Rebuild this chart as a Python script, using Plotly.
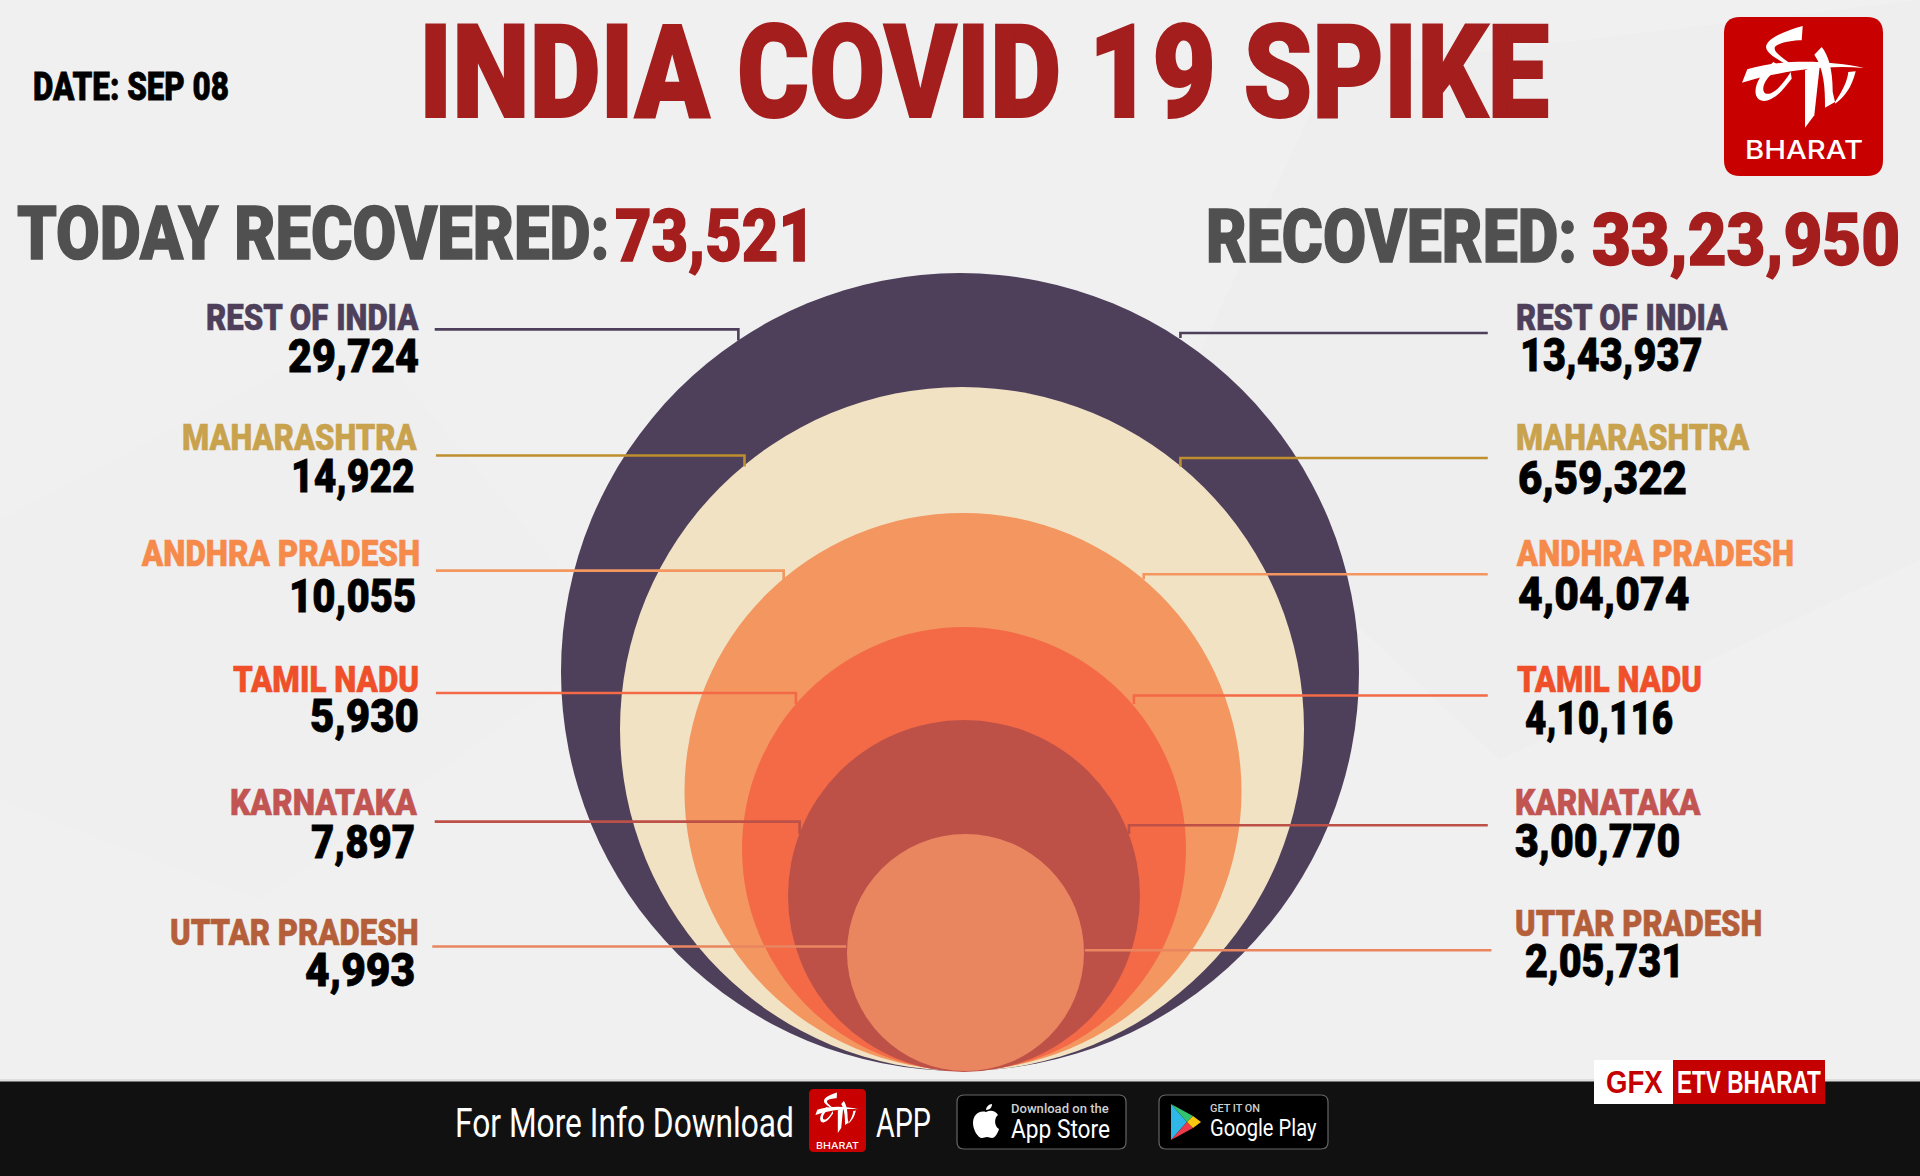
import json
import re
import plotly.graph_objects as go

# ---- data ----
states = ["REST OF INDIA", "MAHARASHTRA", "ANDHRA PRADESH", "TAMIL NADU", "KARNATAKA", "UTTAR PRADESH"]
today_recovered = ["29,724", "14,922", "10,055", "5,930", "7,897", "4,993"]
total_recovered = ["13,43,937", "6,59,322", "4,04,074", "4,10,116", "3,00,770", "2,05,731"]
today_total = "73,521"
grand_total = "33,23,950"

# ---- layout constants (pixels) ----
W, H = 1920, 1176
DISPLAY = "Roboto"
circle_fill = ["#4e3f5a", "#f2e2c4", "#f3965f", "#f46a47", "#bd5148", "#e98660"]
label_color = ["#4e3f5a", "#c9a24d", "#f58a4b", "#ef5029", "#c25552", "#b55f3a"]
line_color = ["#4e3f5a", "#bf8f2e", "#f3965f", "#f46a47", "#bd5148", "#e98660"]
circle_r = [399, 342, 278.5, 222, 176, 118.5]
circle_cx = [960, 962, 963, 964, 964, 965.5]
circle_top = [273, 387, 513, 627, 720, 834]

S = 1.2245
left_name_y = [258, 356, 451, 554, 654, 760]
left_val_y = [291, 389, 487, 585, 688, 792]
left_name_x = [(168, 342), (149, 341), (115, 343), (190, 342), (188, 341), (139, 342)]
left_val_x = [(235, 342), (238, 339), (236, 340), (253, 342), (254, 339), (249, 339)]
right_name_y = [258, 356, 451, 554, 654, 753]
right_val_y = [290, 390, 485, 586, 687, 785]
right_name_x = [(1238, 1411), (1238, 1429), (1238, 1465), (1239, 1390), (1237, 1389), (1237, 1439)]
right_val_x = [(1241, 1390), (1240, 1378), (1240, 1380), (1245, 1366), (1237, 1372), (1245, 1375)]
left_lines = [(355, 603, 269, 278), (356, 608, 372, 381), (356, 640, 466, 475),
              (356, 650, 566, 575), (355, 653, 671, 681), (353, 691, 773, 773)]
right_lines = [(1215, 964, 272, 276), (1215, 964, 374, 381), (1215, 934, 469, 473),
               (1215, 926, 568, 575), (1215, 922, 674, 681), (1218, 886, 776, 776)]

fig = go.Figure()

for i in range(len(states)):
    fig.add_trace(go.Scatter(
        x=[circle_cx[i]], y=[circle_top[i] + circle_r[i]], mode="markers",
        marker=dict(size=2 * circle_r[i], color=circle_fill[i], line=dict(width=0)),
        hoverinfo="text", text=[f"{states[i]}: {total_recovered[i]}"], showlegend=False))

for i in range(len(states)):
    for (x0, x1, y0, y1) in (left_lines[i], right_lines[i]):
        fig.add_trace(go.Scatter(
            x=[x0 * S, x1 * S, x1 * S], y=[y0 * S, y0 * S, y1 * S], mode="lines",
            line=dict(color=line_color[i], width=2.6), hoverinfo="skip", showlegend=False))

annotations, fit_width, fit_stroke = [], [], []
def txt(x0, x1, y, s, cap, color, family=DISPLAY, weight=900, stroke=0.0):
    annotations.append(dict(
        x=x0, y=y, xref="x", yref="y", text=s, showarrow=False, xanchor="left", yanchor="middle",
        borderpad=0, borderwidth=0,
        font=dict(family=family, size=cap / 0.711, color=color, weight=weight)))
    fit_width.append(x1 - x0)
    fit_stroke.append(stroke)

for i, name in enumerate(states):
    a, b = left_name_x[i]
    txt(a * S, b * S, left_name_y[i] * S + 1, name, 26.5, label_color[i], stroke=0.6)
    a, b = left_val_x[i]
    txt(a * S, b * S, left_val_y[i] * S, today_recovered[i], 33.5, "#000000", stroke=0.8)
    a, b = right_name_x[i]
    txt(a * S, b * S, right_name_y[i] * S + 1, name, 26.5, label_color[i], stroke=0.6)
    a, b = right_val_x[i]
    txt(a * S, b * S, right_val_y[i] * S, total_recovered[i], 33.5, "#000000", stroke=0.8)

txt(419, 1549, 73, "INDIA COVID 19 SPIKE", 92, "#a51e1e", stroke=2)
txt(33, 229, 86, "DATE: SEP 08", 28, "#000000", stroke=0.8)
txt(16.5, 609, 233, "TODAY RECOVERED:", 53, "#505050", stroke=1.5)
txt(615, 815, 236, today_total, 52, "#a51e1e", stroke=1.5)
txt(1206, 1577, 236, "RECOVERED:", 53, "#505050", stroke=1.5)
txt(1592, 1900, 240, grand_total, 51, "#a51e1e", stroke=1.5)

# footer text
txt(455, 794, 1122.5, "For More Info Download", 29, "#ffffff", weight=400)
txt(876, 931, 1122.5, "APP", 29, "#ffffff", weight=400)
txt(1011, 1109, 1108.5, "Download on the", 9, "#cfcfcf", weight=500)
txt(1011, 1110, 1129, "App Store", 18, "#ffffff", weight=400)
txt(1210, 1260, 1108, "GET IT ON", 8, "#cfcfcf", weight=500)
txt(1210, 1317, 1128, "Google Play", 17, "#ffffff", weight=400)
txt(1606, 1663, 1082, "GFX", 22, "#c40000", family="Liberation Sans", weight=700)
txt(1677, 1821, 1082, "ETV BHARAT", 22, "#ffffff", family="Liberation Sans", weight=700)
txt(1745, 1863, 149, "BHARAT", 18, "#ffffff", family="Inter", weight=500)
txt(816, 859, 1145, "BHARAT", 6.5, "#ffffff", family="Inter", weight=500)

def rrect(x0, y0, x1, y1, r):
    return (f"M{x0+r},{y0} L{x1-r},{y0} Q{x1},{y0} {x1},{y0+r} L{x1},{y1-r} Q{x1},{y1} {x1-r},{y1} "
            f"L{x0+r},{y1} Q{x0},{y1} {x0},{y1-r} L{x0},{y0+r} Q{x0},{y0} {x0+r},{y0} Z")

logo_paths = [
    "M248 42 L245 85 C215 85 175 92 165 105 C158 118 185 135 212 155 L196 155 C170 140 140 125 138 105 C140 78 200 55 248 42 Z",
    "M160 150 C125 180 100 220 108 250 C118 280 160 270 195 225 L215 200 L212 180 C190 215 160 250 138 245 C118 235 135 190 185 165 Z",
    "M82 172 C180 140 330 145 432 168 C340 160 250 170 175 185 C130 192 90 205 66 212 Z",
    "M255 175 L300 155 L283 310 L255 347 Z",
    "M283 128 L305 105 C325 130 338 170 338 240 L345 270 L315 287 C316 230 312 170 283 128 Z",
    "M345 270 C365 240 382 210 385 180 L407 178 C395 225 375 255 345 275 Z",
]
def map_path(p, ox, oy, kx, ky):
    out, n = [], 0
    for t in re.findall(r"[A-Z]|[\d.]+", p):
        if t.isalpha():
            out.append(t)
        else:
            v = float(t)
            out.append(f"{ox + v * kx:.1f}" if n % 2 == 0 else f"{oy + v * ky:.1f}")
            n += 1
    return " ".join(out)

def solid(path, color):
    return dict(type="path", path=path, fillcolor=color, line=dict(width=0), layer="above")

shapes = [
    dict(type="path", path="M1160,440 L1330,70 L1920,0 L1920,560 L1500,760 Z", fillcolor="#eeeeef",
         line=dict(width=0), layer="below"),
    dict(type="path", path="M0,520 L360,330 L620,640 L260,900 L0,800 Z", fillcolor="#efeff0",
         line=dict(width=0), layer="below"),
    dict(type="rect", x0=0, x1=W, y0=1079, y1=1082, fillcolor="#dedede", line=dict(width=0), layer="below"),
    dict(type="rect", x0=0, x1=W, y0=1081.5, y1=H, fillcolor="#111111", line=dict(width=0), layer="above"),
    solid(rrect(1724, 17, 1883, 176, 16), "#c80000"),
    solid(rrect(809, 1089, 866, 1152, 5), "#c80000"),
    dict(type="rect", x0=1594, x1=1673, y0=1060, y1=1104, fillcolor="#ffffff", line=dict(width=0), layer="above"),
    dict(type="rect", x0=1673, x1=1825, y0=1060, y1=1104, fillcolor="#c40000", line=dict(width=0), layer="above"),
    dict(type="path", path=rrect(957, 1095, 1126, 1149, 7), fillcolor="#000000",
         line=dict(width=1.2, color="#666666"), layer="above"),
    dict(type="path", path=rrect(1159, 1095, 1328, 1149, 7), fillcolor="#000000",
         line=dict(width=1.2, color="#666666"), layer="above"),
    solid("M986,1112 C978,1110 973,1116 973,1123 C973,1130 978,1138 982,1138 C984,1138 985,1137 987,1137 "
          "C989,1137 990,1138 992,1138 C995,1138 998,1133 999,1129 C994,1126 994,1118 998,1115 C995,1110 990,1110 986,1112 Z", "#ffffff"),
    solid("M986,1110 C986,1107 989,1104 992,1104 C992,1107 990,1110 986,1110 Z", "#ffffff"),
    solid("M1171,1104 L1187,1122 L1171,1140 Z", "#2fb7e8"),
    solid("M1171,1104 L1193,1116 L1187,1122 Z", "#34c46f"),
    solid("M1171,1140 L1193,1128 L1187,1122 Z", "#ee3a4b"),
    solid("M1193,1116 L1201,1122 L1193,1128 L1187,1122 Z", "#fcc60e"),
]
for p in logo_paths:
    shapes.append(solid(map_path(p, 1720, 12, 1 / 3, 1 / 3), "#ffffff"))
    shapes.append(solid(map_path(p, 807.5, 1087, 0.119, 0.1326), "#ffffff"))

fig.update_layout(
    width=W, height=H, autosize=False,
    margin=dict(l=0, r=0, t=0, b=0),
    paper_bgcolor="#f0f0f1", plot_bgcolor="#f0f0f1",
    xaxis=dict(range=[0, W], visible=False, fixedrange=True),
    yaxis=dict(range=[H, 0], visible=False, fixedrange=True),
    showlegend=False, shapes=shapes, annotations=annotations,
)

# Squeeze each real text horizontally to the condensed width of the reference lettering.
js = """
document.body.style.margin='0';
(function(){
  var WD = __W__, ST = __S__;
  var gd = document.getElementById('{plot_id}');
  function fit(){
    gd.querySelectorAll('.annotation').forEach(function(g){
      var i = +g.getAttribute('data-index');
      var t = g.querySelector('text');
      if(!t) return;
      var b = t.getBBox();
      var s = WD[i] / b.width;
      t.setAttribute('transform','translate('+b.x+',0) scale('+s+',1) translate('+(-b.x)+',0)');
      var r = g.querySelector('rect.bg');
      if(r) r.setAttribute('width', WD[i]);
      if(ST[i] > 0){
        t.style.stroke = t.style.fill;
        t.style.strokeWidth = ST[i] + 'px';
      }
    });
  }
  fit();
  gd.on('plotly_afterplot', fit);
})();
""".replace("__W__", json.dumps(fit_width)).replace("__S__", json.dumps(fit_stroke))

fig.write_html("out.html", config={"displayModeBar": False}, post_script=js)
